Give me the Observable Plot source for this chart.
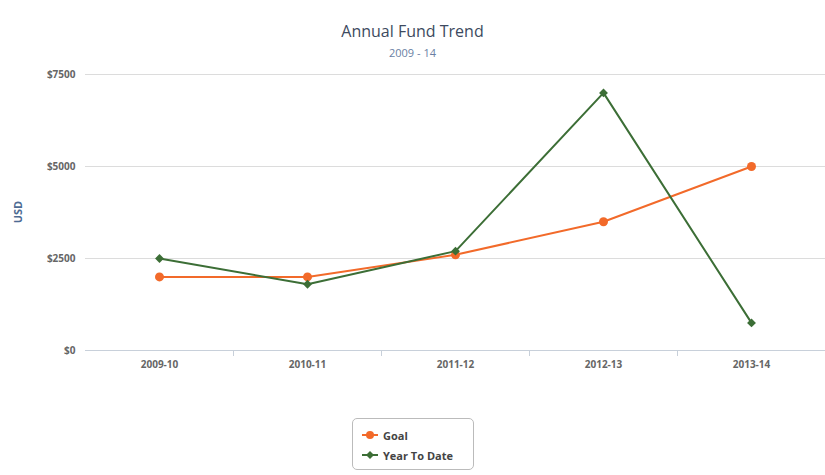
<!DOCTYPE html>
<html>
<head>
<meta charset="utf-8">
<script src="https://cdn.jsdelivr.net/npm/d3@7"></script>
<script src="https://cdn.jsdelivr.net/npm/@observablehq/plot@0.6"></script>
<style>
  body { margin: 0; background: #fff; font-family: "Open Sans", "DejaVu Sans", sans-serif; }
  #wrap { width: 825px; height: 475px; position: relative; overflow: hidden; }
  #title { position: absolute; top: 20px; left: 0; width: 825px; text-align: center; font-size: 16px; color: #3d4a60; }
  #subtitle { position: absolute; top: 45px; left: 0; width: 825px; text-align: center; font-size: 11px; color: #6a7fa3; }
  #chart { position: absolute; top: 64px; left: 0; }
  #legend { position: absolute; top: 418px; left: 352px; width: 122px; height: 52px; border: 1px solid #bbb; border-radius: 5px; box-sizing: border-box; padding: 6px 0 0 8px; font-size: 11px; color: #444; font-weight: bold; }
  .item { display: flex; align-items: center; height: 20px; }
  .item svg { margin-right: 4px; }
</style>
</head>
<body>
<div id="wrap">
  <div id="title">Annual Fund Trend</div>
  <div id="subtitle">2009 - 14</div>
  <div id="chart"></div>
  <div id="legend"></div>
</div>
<script>
const categories = ["2009-10", "2010-11", "2011-12", "2012-13", "2013-14"];
const goal = [2000, 2000, 2600, 3500, 5000];
const yearToDate = [2500, 1800, 2700, 7000, 750];
const yTicks = [0, 2500, 5000, 7500];
const seriesNames = ["Goal", "Year To Date"];
const seriesColors = ["#f26a2a", "#3c6e36"];

const rows = [];
categories.forEach((c, i) => {
  rows.push({cat: c, value: goal[i], series: seriesNames[0]});
  rows.push({cat: c, value: yearToDate[i], series: seriesNames[1]});
});
const goalRows = rows.filter(d => d.series === seriesNames[0]);
const ytdRows = rows.filter(d => d.series === seriesNames[1]);

const W = 825, mL = 85, mR = 0;
const step = (W - mL - mR) / categories.length;

const chart = Plot.plot({
  width: W,
  height: 310,
  marginLeft: mL,
  marginRight: mR,
  marginTop: 10,
  marginBottom: 24,
  style: { fontFamily: "'Open Sans', 'DejaVu Sans', sans-serif", fontSize: "10px", color: "#555" },
  x: { type: "point", domain: categories, padding: 0.5, label: null },
  y: { domain: [0, 7500], label: null },
  marks: [
    Plot.ruleY(yTicks.slice(1), { stroke: "#dcdcdc", strokeWidth: 1 }),
    Plot.ruleY([0], { stroke: "#c8d0da", strokeWidth: 1 }),
    Plot.ruleX(categories.slice(0, -1), { x: d => d, dx: step / 2, y1: 0, y2: 0, insetBottom: -6, stroke: "#c8d0da" }),
    Plot.axisY(yTicks, { tickFormat: d => "$" + d, tickSize: 0, tickPadding: 10, fill: "#666", fontSize: 10, fontWeight: "bold" }),
    Plot.axisX({ tickSize: 0, tickPadding: 10, fill: "#666", fontSize: 10, fontWeight: "bold" }),
    Plot.line(goalRows, { x: "cat", y: "value", stroke: seriesColors[0], strokeWidth: 2 }),
    Plot.line(ytdRows, { x: "cat", y: "value", stroke: seriesColors[1], strokeWidth: 2 }),
    Plot.dot(goalRows, { x: "cat", y: "value", fill: seriesColors[0], r: 4.5, symbol: "circle" }),
    Plot.dot(ytdRows, { x: "cat", y: "value", fill: seriesColors[1], r: 4, symbol: "diamond2" })
  ]
});
document.getElementById("chart").appendChild(chart);

// Y axis title
const svg = d3.select(chart);
svg.append("text")
  .attr("transform", `translate(22, ${10 + 276 / 2}) rotate(-90)`)
  .attr("text-anchor", "middle")
  .attr("font-size", "11px")
  .attr("font-weight", "bold")
  .attr("fill", "#4d6b93")
  .text("USD");

// Legend
const legend = d3.select("#legend");
seriesNames.forEach((name, i) => {
  const item = legend.append("div").attr("class", "item");
  const s = item.append("svg").attr("width", 18).attr("height", 10);
  s.append("line").attr("x1", 1).attr("x2", 17).attr("y1", 5).attr("y2", 5).attr("stroke", seriesColors[i]).attr("stroke-width", 2);
  if (i === 0) s.append("circle").attr("cx", 9).attr("cy", 5).attr("r", 4).attr("fill", seriesColors[i]);
  else s.append("path").attr("d", "M9,1 L13,5 L9,9 L5,5 Z").attr("fill", seriesColors[i]);
  item.append("span").text(name);
});
</script>
</body>
</html>
